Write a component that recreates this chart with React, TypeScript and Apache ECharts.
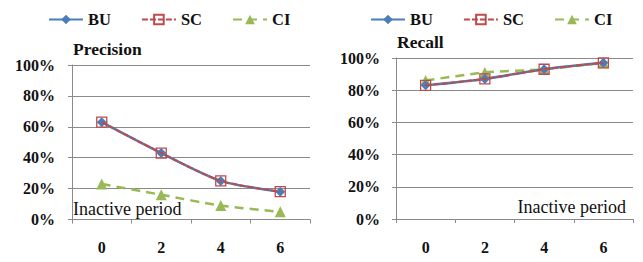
import React, { useEffect, useRef } from "react";
import * as echarts from "echarts";

const categories = ["0", "2", "4", "6"];
const seriesNames = ["BU", "SC", "CI"];
const precisionBU = [63, 43, 25, 18];
const precisionSC = [63, 43, 25, 18];
const precisionCI = [23, 16, 9, 5];
const recallBU = [83, 87, 93, 97];
const recallSC = [83, 87, 93, 97];
const recallCI = [86, 91, 93, 97];
const panelTitles = ["Precision", "Recall"];
const noteText = "Inactive period";

const FONT = "Liberation Serif";
const GRAY = "#8a8a8a";
const COLORS = { BU: "#4a7ebb", SC: "#be4b48", CI: "#98b954" };

function makeSeries(name: string, data: number[], idx: number) {
  const base: any = {
    name,
    type: "line",
    data,
    xAxisIndex: idx,
    yAxisIndex: idx,
    smooth: 0.25,
    animation: false,
  };
  if (name === "BU") {
    return {
      ...base,
      symbol: "diamond",
      symbolSize: 10,
      lineStyle: { color: COLORS.BU, width: 2.5, type: "solid" },
      itemStyle: { color: COLORS.BU },
      z: 2,
    };
  }
  if (name === "SC") {
    return {
      ...base,
      symbol: "rect",
      symbolSize: 10,
      lineStyle: { color: COLORS.SC, width: 2, type: [6, 2] },
      itemStyle: { color: "rgba(255,255,255,0)", borderColor: COLORS.SC, borderWidth: 1.3 },
      z: 3,
    };
  }
  return {
    ...base,
    symbol: "triangle",
    symbolSize: 11,
    lineStyle: { color: COLORS.CI, width: 2.5, type: [9, 6] },
    itemStyle: { color: COLORS.CI },
    z: 1,
  };
}

export default function App() {
  const ref = useRef<HTMLDivElement>(null);
  useEffect(() => {
    if (!ref.current) return;
    const chart = echarts.init(ref.current, null, { renderer: "svg" });
    const grids = [
      { left: 72, top: 65, width: 238, height: 154.5 },
      { left: 396, top: 58, width: 237, height: 161 },
    ];
    const yMargins = [17, 16];
    const xAxis = grids.map((_, i) => ({
      type: "category",
      gridIndex: i,
      data: categories,
      boundaryGap: true,
      axisLine: { lineStyle: { color: GRAY, width: 1 } },
      axisTick: { show: true, length: 4, lineStyle: { color: GRAY }, alignWithLabel: false },
      axisLabel: { color: "#111", fontFamily: FONT, fontSize: 16, fontWeight: "bold", margin: 20 },
    }));
    const yAxis = grids.map((_, i) => ({
      type: "value",
      gridIndex: i,
      min: 0,
      max: 100,
      interval: 20,
      axisLine: { show: true, lineStyle: { color: GRAY, width: 1 } },
      axisTick: { show: true, length: 4, lineStyle: { color: GRAY } },
      splitLine: { show: true, lineStyle: { color: GRAY, width: 1 } },
      axisLabel: {
        color: "#111",
        fontFamily: FONT,
        fontSize: 16,
        fontWeight: "bold",
        margin: yMargins[i],
        formatter: (v: number) => v + "%",
      },
    }));
    const legendBase = {
      data: seriesNames,
      itemWidth: 34,
      itemHeight: 12,
      itemGap: 30,
      top: 6,
      textStyle: { fontFamily: FONT, fontSize: 16.5, fontWeight: "bold", color: "#111" },
    };
    const titleStyle = { fontFamily: FONT, fontSize: 17.5, fontWeight: "bold", color: "#111" };
    chart.setOption({
      animation: false,
      backgroundColor: "#fff",
      title: [
        { text: panelTitles[0], left: 73, top: 40, padding: 0, textStyle: titleStyle },
        { text: panelTitles[1], left: 397, top: 33, padding: 0, textStyle: titleStyle },
      ],
      legend: [
        { ...legendBase, left: 43 },
        { ...legendBase, left: 365 },
      ],
      grid: grids,
      xAxis,
      yAxis,
      series: [
        makeSeries("CI", precisionCI, 0),
        makeSeries("BU", precisionBU, 0),
        makeSeries("SC", precisionSC, 0),
        makeSeries("CI", recallCI, 1),
        makeSeries("BU", recallBU, 1),
        makeSeries("SC", recallSC, 1),
      ],
      graphic: [
        {
          type: "text",
          left: 73,
          top: 200,
          style: { text: noteText, fontFamily: FONT, fontSize: 18, fill: "#111" },
        },
        {
          type: "text",
          right: 643 - 626,
          top: 198,
          style: { text: noteText, fontFamily: FONT, fontSize: 18, fill: "#111" },
        },
      ],
    });
    return () => chart.dispose();
  }, []);
  return (
    <div
      ref={ref}
      style={{ position: "absolute", left: 0, top: 0, width: 643, height: 262 }}
    />
  );
}
